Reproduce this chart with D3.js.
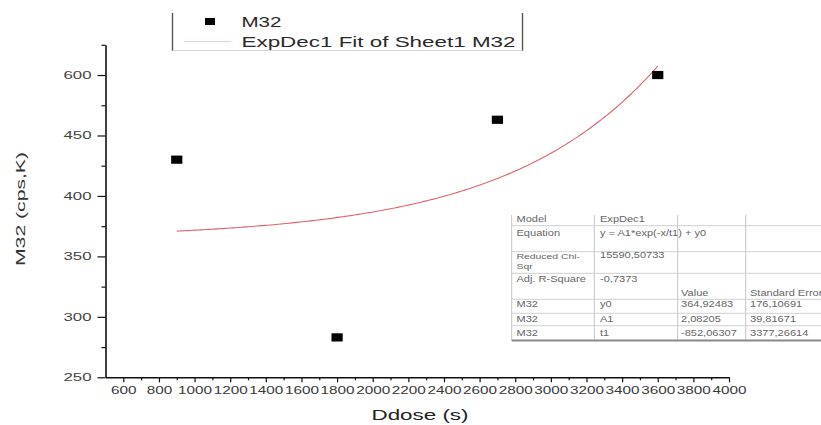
<!DOCTYPE html>
<html>
<head>
<meta charset="utf-8">
<script src="https://cdn.jsdelivr.net/npm/d3@7"></script>
<style>
  html, body { margin: 0; padding: 0; background: #fff; }
  svg { display: block; font-family: "Liberation Sans", Arial, sans-serif; }
</style>
</head>
<body>
<svg id="chart" width="821" height="425"></svg>
<script>
// Measured dose times (s) and M32 signal (cps, K)
const doseTimes = [900, 1800, 2700, 3600];
const m32Values = [430, 283, 463, 500];

// ExpDec1 fit: y = A1*exp(-x/t1) + y0
const fitNames = ["y0", "A1", "t1"];
const fitValues = [364.92483, 2.08205, -852.06307];
const fitErrors = [176.10691, 39.81671, 3377.26614];
const reducedChiSqr = 15590.50733;
const adjRSquare = -0.7373;

// Axis ticks
const xMajorTicks = d3.range(600, 4001, 200);
const xMinorTicks = d3.range(700, 4000, 200);
const yMajorTicks = [250, 300, 350, 400, 450, 500];
const yTickLabels = ["250", "300", "350", "400", "450", "600"];
const yMinorTicks = [275, 325, 375, 425, 475, 525];

const FONT = '"Liberation Sans", Arial, sans-serif';
const ink = "#111";

const svg = d3.select("#chart");
svg.append("rect").attr("width", 821).attr("height", 425).attr("fill", "#fff");

const x = d3.scaleLinear().domain([500, 4000]).range([105.5, 729]);
const y = d3.scaleLinear().domain([250, 525]).range([377.3, 44.8]);

// ---- x axis ----
svg.append("g")
  .attr("transform", `translate(0,${y(250)})`)
  .call(d3.axisBottom(x).tickValues(xMinorTicks).tickSize(3).tickFormat("").tickSizeOuter(0))
  .call(g => g.select(".domain").remove())
  .call(g => g.selectAll(".tick line").attr("stroke", ink).attr("stroke-width", 1.2));

const gx = svg.append("g")
  .attr("transform", `translate(0,${y(250)})`)
  .attr("font-family", FONT)
  .attr("font-size", 12.5)
  .call(d3.axisBottom(x).tickValues(xMajorTicks).tickSize(5).tickPadding(5)
    .tickSizeOuter(0).tickFormat(d3.format("d")));
gx.select(".domain").attr("stroke", ink).attr("stroke-width", 1.6);
gx.selectAll(".tick line").attr("stroke", ink).attr("stroke-width", 1.2);
gx.selectAll(".tick text")
  .attr("fill", "#3a3a3a")
  .attr("textLength", d => String(d).length * 8.5)
  .attr("lengthAdjust", "spacingAndGlyphs");

// ---- y axis ----
svg.append("g")
  .attr("transform", `translate(${x(500)},0)`)
  .call(d3.axisLeft(y).tickValues(yMinorTicks).tickSize(4).tickFormat("").tickSizeOuter(0))
  .call(g => g.select(".domain").remove())
  .call(g => g.selectAll(".tick line").attr("stroke", ink).attr("stroke-width", 1.2));

const gy = svg.append("g")
  .attr("transform", `translate(${x(500)},0)`)
  .attr("font-family", FONT)
  .attr("font-size", 11.5)
  .call(d3.axisLeft(y).tickValues(yMajorTicks).tickSize(8).tickPadding(6)
    .tickSizeOuter(0).tickFormat((d, i) => yTickLabels[i]));
gy.select(".domain").attr("stroke", ink).attr("stroke-width", 1.6);
gy.selectAll(".tick line").attr("stroke", ink).attr("stroke-width", 1.2);
gy.selectAll(".tick text")
  .attr("fill", "#444")
  .attr("textLength", 28)
  .attr("lengthAdjust", "spacingAndGlyphs");

// ---- axis titles ----
svg.append("text")
  .attr("x", 420).attr("y", 420)
  .attr("text-anchor", "middle")
  .attr("font-family", FONT).attr("font-size", 14.5).attr("fill", "#222")
  .attr("textLength", 97).attr("lengthAdjust", "spacingAndGlyphs")
  .text("Ddose (s)");

svg.append("text")
  .attr("transform", "translate(25,209) rotate(-90)")
  .attr("text-anchor", "middle")
  .attr("font-family", FONT).attr("font-size", 13).attr("fill", "#333")
  .attr("textLength", 114).attr("lengthAdjust", "spacingAndGlyphs")
  .text("M32 (cps,K)");

// ---- fit curve ----
const fit = t => fitValues[1] * Math.exp(-t / fitValues[2]) + fitValues[0];
const fitX = d3.range(doseTimes[0], doseTimes[doseTimes.length - 1] + 1, 15);
svg.append("path")
  .datum(fitX)
  .attr("fill", "none")
  .attr("stroke", "#e0626c")
  .attr("stroke-width", 1.1)
  .attr("d", d3.line().x(d => x(d)).y(d => y(fit(d))));

// ---- data markers ----
svg.append("g").selectAll("rect")
  .data(doseTimes)
  .join("rect")
  .attr("x", d => x(d) - 5.6)
  .attr("y", (d, i) => y(m32Values[i]) - 4.1)
  .attr("width", 11.2)
  .attr("height", 8.2)
  .attr("fill", "#000");

// ---- legend ----
const leg = svg.append("g");
leg.append("line").attr("x1", 172.5).attr("x2", 172.5).attr("y1", 13).attr("y2", 51)
  .attr("stroke", "#555").attr("stroke-width", 1.4);
leg.append("line").attr("x1", 522.5).attr("x2", 522.5).attr("y1", 13).attr("y2", 51)
  .attr("stroke", "#555").attr("stroke-width", 1.4);
leg.append("line").attr("x1", 172.5).attr("x2", 522.5).attr("y1", 50.5).attr("y2", 50.5)
  .attr("stroke", "#d8d8d8").attr("stroke-width", 1);
leg.append("rect").attr("x", 205).attr("y", 18).attr("width", 10).attr("height", 7).attr("fill", "#000");
leg.append("line").attr("x1", 184).attr("x2", 231).attr("y1", 41.5).attr("y2", 41.5)
  .attr("stroke", "#eed0d2").attr("stroke-width", 1);
leg.append("text").attr("x", 241.5).attr("y", 27.3)
  .attr("font-family", FONT).attr("font-size", 14.5).attr("fill", "#2a2a2a")
  .attr("textLength", 40).attr("lengthAdjust", "spacingAndGlyphs")
  .text("M32");
leg.append("text").attr("x", 241.5).attr("y", 46.5)
  .attr("font-family", FONT).attr("font-size", 14.5).attr("fill", "#2a2a2a")
  .attr("textLength", 274).attr("lengthAdjust", "spacingAndGlyphs")
  .text("ExpDec1 Fit of Sheet1 M32");

// ---- fit results table ----
const fmt = v => String(v).replace(".", ",");
const tbl = svg.append("g");
const colX = [511.7, 594.3, 677.7, 745.7];
const rowLines = [225.7, 251.7, 273.3, 299.3, 313.3, 325.7];
const tTop = 215, tBottom = 340.5;

colX.forEach(cx => tbl.append("line")
  .attr("x1", cx).attr("x2", cx).attr("y1", tTop).attr("y2", tBottom)
  .attr("stroke", "#c4c4c4").attr("stroke-width", 1));
rowLines.forEach(ry => tbl.append("line")
  .attr("x1", colX[0]).attr("x2", 821).attr("y1", ry).attr("y2", ry)
  .attr("stroke", "#d0d0d0").attr("stroke-width", 1));
tbl.append("line")
  .attr("x1", colX[0]).attr("x2", 821).attr("y1", tBottom).attr("y2", tBottom)
  .attr("stroke", "#888").attr("stroke-width", 2);

const cellX = [516.5, 600, 681, 750];
function cell(text, col, yy, size) {
  tbl.append("text")
    .attr("transform", `translate(${cellX[col]},${yy}) scale(1.3,1)`)
    .attr("font-family", FONT).attr("font-size", size || 8.5).attr("fill", "#666")
    .text(text);
}
cell("Model", 0, 222.3);
cell("ExpDec1", 1, 222.3);
cell("Equation", 0, 235.7);
cell("y = A1*exp(-x/t1) + y0", 1, 235.7);
cell("Reduced Chi-", 0, 258.8, 8);
cell("Sqr", 0, 268.6, 8);
cell(fmt(reducedChiSqr), 1, 258.3);
cell("Adj. R-Square", 0, 281.7);
cell(fmt(adjRSquare), 1, 281.7);
cell("Value", 2, 295.7);
cell("Standard Error", 3, 295.7);
const rowY = [307, 322.3, 335.5];
fitNames.forEach((name, i) => {
  cell("M32", 0, rowY[i]);
  cell(name, 1, rowY[i]);
  cell(fmt(fitValues[i]), 2, rowY[i]);
  cell(fmt(fitErrors[i]), 3, rowY[i]);
});
</script>
</body>
</html>
